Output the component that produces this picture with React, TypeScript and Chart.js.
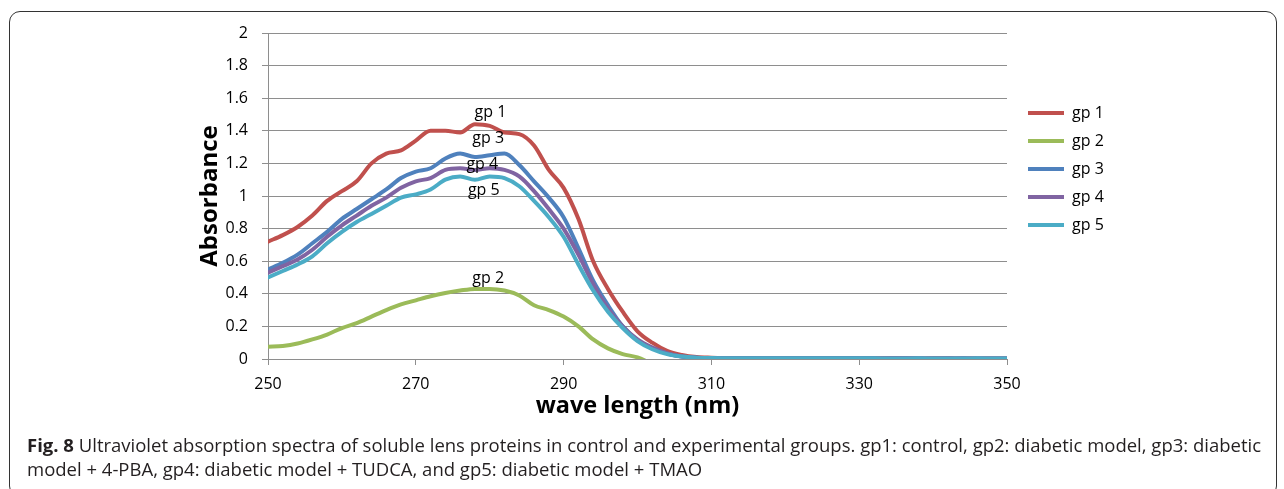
import React, { useEffect, useRef } from "react";
import { Chart, registerables } from "chart.js";

Chart.register(...registerables);

// ---- data ----
const wavelengths = [
  250, 252, 254, 256, 258, 260, 262, 264, 266, 268, 270, 272, 274, 276, 278, 280, 282, 284, 286, 288,
  290, 292, 294, 296, 298, 300, 302, 304, 306, 308, 310, 312, 314, 316, 318, 320, 322, 324, 326, 328,
  330, 332, 334, 336, 338, 340, 342, 344, 346, 348, 350,
];

const gp1 = [
  0.72, 0.76, 0.81, 0.88, 0.97, 1.03, 1.09, 1.2, 1.26, 1.28, 1.34, 1.4, 1.4, 1.39, 1.44, 1.43, 1.39, 1.38, 1.31, 1.16,
  1.05, 0.86, 0.6, 0.43, 0.29, 0.17, 0.1, 0.05, 0.025, 0.012, 0.008, 0.006, 0.005, 0.005, 0.006, 0.005, 0.004, 0.005, 0.005, 0.004,
  0.004, 0.005, 0.004, 0.004, 0.003, 0.004, 0.004, 0.003, 0.003, 0.003, 0.003,
];

const gp2 = [
  0.075, 0.08, 0.095, 0.12, 0.15, 0.19, 0.22, 0.26, 0.3, 0.335, 0.36, 0.385, 0.405, 0.42, 0.43, 0.43, 0.42, 0.39, 0.33, 0.3,
  0.26, 0.2, 0.12, 0.065, 0.03, 0.01, -0.03, -0.06, -0.06, -0.06, -0.06, -0.06, -0.06, -0.06, -0.06, -0.06, -0.06, -0.06, -0.06, -0.06,
  -0.06, -0.06, -0.06, -0.06, -0.06, -0.06, -0.06, -0.06, -0.06, -0.06, -0.06,
];

const gp3 = [
  0.55, 0.59, 0.64, 0.71, 0.78, 0.86, 0.92, 0.98, 1.04, 1.11, 1.15, 1.17, 1.23, 1.26, 1.24, 1.25, 1.26, 1.19, 1.09, 0.99,
  0.87, 0.68, 0.48, 0.33, 0.2, 0.115, 0.068, 0.035, 0.015, 0.008, 0.006, 0.005, 0.005, 0.004, 0.005, 0.005, 0.004, 0.004, 0.005, 0.004,
  0.004, 0.004, 0.003, 0.004, 0.004, 0.003, 0.003, 0.004, 0.003, 0.003, 0.003,
];

const gp4 = [
  0.53, 0.57, 0.61, 0.67, 0.75, 0.82, 0.88, 0.94, 0.99, 1.05, 1.09, 1.11, 1.16, 1.17, 1.16, 1.17, 1.16, 1.12, 1.03, 0.92,
  0.8, 0.64, 0.46, 0.31, 0.2, 0.12, 0.07, 0.035, 0.015, 0.008, 0.006, 0.005, 0.005, 0.005, 0.004, 0.005, 0.004, 0.004, 0.004, 0.005,
  0.004, 0.003, 0.004, 0.004, 0.003, 0.003, 0.004, 0.003, 0.003, 0.003, 0.003,
];

const gp5 = [
  0.5, 0.54, 0.58, 0.63, 0.71, 0.78, 0.84, 0.89, 0.94, 0.99, 1.01, 1.04, 1.1, 1.12, 1.1, 1.12, 1.11, 1.06, 0.97, 0.87,
  0.75, 0.58, 0.42, 0.29, 0.19, 0.11, 0.06, 0.03, 0.015, 0.008, 0.006, 0.005, 0.004, 0.005, 0.005, 0.004, 0.004, 0.005, 0.004, 0.004,
  0.004, 0.004, 0.003, 0.003, 0.004, 0.003, 0.003, 0.003, 0.004, 0.003, 0.003,
];

const seriesNames = ["gp 1", "gp 2", "gp 3", "gp 4", "gp 5"];
const seriesData = [gp1, gp2, gp3, gp4, gp5];
const seriesColors = ["#C0504D", "#9BBB59", "#4F81BD", "#8064A2", "#4BACC6"];

// in-plot series labels (anchored in data coordinates: wavelength, absorbance)
const labelWavelength = [280.1, 279.8, 279.8, 279.0, 279.2];
const labelAbsorbance = [1.487, 0.464, 1.327, 1.166, 1.006];

const xTickValues = [250, 270, 290, 310, 330, 350];
const xTickLabels = ["250", "270", "290", "310", "330", "350"];
const yTickValues = [0, 0.2, 0.4, 0.6, 0.8, 1, 1.2, 1.4, 1.6, 1.8, 2];
const yTickLabels = ["0", "0.2", "0.4", "0.6", "0.8", "1", "1.2", "1.4", "1.6", "1.8", "2"];

const xTitle = "wave length (nm)";
const yTitle = "Absorbance";

const FONT = '"Open Sans", "Noto Sans", sans-serif';
const GRID = "#8e8e8e";

const seriesLabelPlugin = {
  id: "seriesLabels",
  afterDatasetsDraw(chart: any) {
    const { ctx, scales } = chart;
    const x = scales.x;
    const y = scales.y;
    ctx.save();
    ctx.font = `16px ${FONT}`;
    ctx.fillStyle = "#000";
    ctx.textAlign = "center";
    ctx.textBaseline = "alphabetic";
    seriesNames.forEach((name, i) => {
      ctx.fillText(name, x.getPixelForValue(labelWavelength[i]), y.getPixelForValue(labelAbsorbance[i]));
    });
    ctx.restore();
  },
};

export default function App() {
  const canvasRef = useRef<HTMLCanvasElement | null>(null);

  useEffect(() => {
    if (!canvasRef.current) return;
    const datasets = seriesNames.map((name, i) => ({
      label: name,
      data: wavelengths.map((w, j) => ({ x: w, y: seriesData[i][j] })),
      borderColor: seriesColors[i],
      backgroundColor: seriesColors[i],
      borderWidth: 4,
      borderCapStyle: "round" as const,
      borderJoinStyle: "round" as const,
      pointRadius: 0,
      pointHoverRadius: 0,
      cubicInterpolationMode: "monotone" as const,
      fill: false,
      order: seriesNames.length - i,
    }));

    const chart = new Chart(canvasRef.current, {
      type: "line",
      data: { datasets },
      plugins: [seriesLabelPlugin],
      options: {
        animation: false,
        responsive: false,
        devicePixelRatio: 1,
        layout: { padding: { left: 0, top: 25, right: 170, bottom: 0 } },
        plugins: {
          tooltip: { enabled: false },
          legend: {
            position: "right",
            align: "start",
            maxWidth: 90,
            title: { display: true, text: "", font: { size: 10 }, padding: { top: 48, bottom: 0 } },
            labels: {
              usePointStyle: true,
              pointStyle: "line",
              pointStyleWidth: 36,
              padding: 12,
              color: "#000",
              font: { family: FONT, size: 16 },
              sort: (a: any, b: any) => a.datasetIndex - b.datasetIndex,
            },
          },
        },
        scales: {
          x: {
            type: "linear",
            min: 250,
            max: 350,
            afterBuildTicks: (scale: any) => {
              scale.ticks = xTickValues.map((v) => ({ value: v }));
            },
            afterFit: (scale: any) => {
              scale.height = 69;
            },
            ticks: {
              color: "#000",
              padding: 10,
              font: { family: FONT, size: 16 },
              callback: (v: any) => {
                const k = xTickValues.indexOf(Number(v));
                return k >= 0 ? xTickLabels[k] : "";
              },
            },
            grid: { display: true, drawOnChartArea: false, drawTicks: true, tickLength: 6, color: GRID },
            border: { display: true, color: GRID, width: 1 },
            title: {
              display: true,
              text: xTitle,
              color: "#000",
              font: { family: FONT, size: 23.5, weight: "bold" },
              padding: { top: 0, bottom: 8 },
            },
          },
          y: {
            type: "linear",
            min: 0,
            max: 2,
            afterBuildTicks: (scale: any) => {
              scale.ticks = yTickValues.map((v) => ({ value: v }));
            },
            afterFit: (scale: any) => {
              scale.width = 260;
            },
            ticks: {
              color: "#000",
              padding: 14,
              font: { family: FONT, size: 16 },
              callback: (v: any) => {
                const k = yTickValues.findIndex((t) => Math.abs(t - Number(v)) < 1e-9);
                return k >= 0 ? yTickLabels[k] : "";
              },
            },
            grid: { display: true, drawOnChartArea: true, drawTicks: true, tickLength: 6, color: GRID, lineWidth: 1 },
            border: { display: true, color: GRID, width: 1 },
            title: {
              display: true,
              text: yTitle,
              color: "#000",
              font: { family: FONT, size: 24, weight: "bold" },
              padding: { top: 188, bottom: 0 },
            },
          },
          yRight: {
            type: "linear",
            position: "right",
            display: true,
            grid: { display: false },
            border: { display: false },
            ticks: { display: false },
            afterFit: (scale: any) => {
              scale.width = 9;
            },
          },
        },
      },
    } as any);

    return () => chart.destroy();
  }, []);

  return (
    <div style={{ position: "relative", width: 1268, height: 473 }}>
      <div
        style={{
          position: "fixed",
          left: 9,
          top: 11,
          width: 1268,
          height: 486,
          boxSizing: "border-box",
          border: "1.5px solid #333",
          borderRadius: 11,
        }}
      />
      <canvas
        ref={canvasRef}
        width={1268}
        height={420}
        style={{ position: "absolute", left: 0, top: 0, width: 1268, height: 420 }}
      />
      <div
        style={{
          position: "absolute",
          left: 19,
          top: 425,
          whiteSpace: "nowrap",
          fontFamily: FONT,
          fontSize: 18.5,
          lineHeight: "24px",
          color: "#231f20",
        }}
      >
        <b>Fig. 8</b> Ultraviolet absorption spectra of soluble lens proteins in control and experimental groups. gp1:
        control, gp2: diabetic model, gp3: diabetic
        <br />
        model + 4-PBA, gp4: diabetic model + TUDCA, and gp5: diabetic model + TMAO
      </div>
    </div>
  );
}
